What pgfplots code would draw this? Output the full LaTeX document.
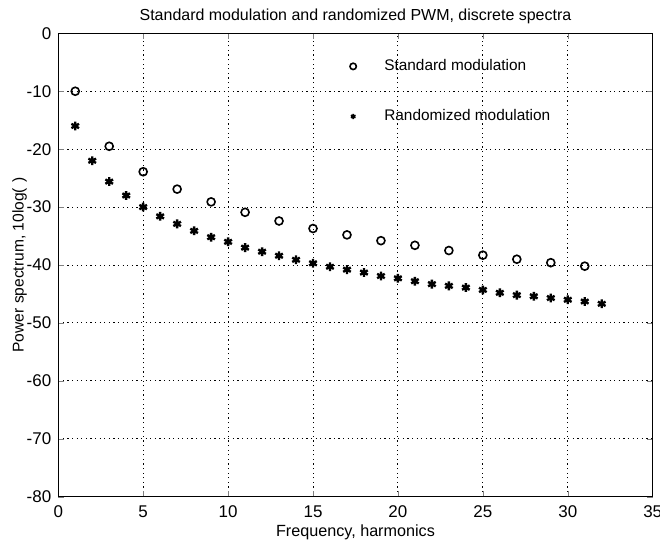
\documentclass[border=0pt]{standalone}
\usepackage{fontspec}
\setmainfont{Liberation Sans}
\usepackage{pgfplots}
\pgfplotsset{compat=1.18}

\begin{document}
\begin{tikzpicture}
\begin{axis}[
    scale only axis,
    width=297.6pt, height=232pt,
    xmin=0, xmax=35, ymin=-80, ymax=0,
    xtick={0,5,...,35}, ytick={-80,-70,...,0},
    tick label style={font=\fontsize{8.5}{10}\selectfont},
    xticklabel style={yshift=-1pt},
    /pgf/number format/assume math mode=true,
    tick align=inside, tick pos=both,
    major tick length=3pt,
    grid=major,
    major grid style={black, dash pattern=on 0.6pt off 1.7pt, line width=0.5pt},
    axis line style={black, line width=0.6pt},
    title={Standard modulation and randomized PWM, discrete spectra},
    title style={font=\fontsize{8}{9}\selectfont, yshift=-5pt},
    xlabel={Frequency, harmonics},
    ylabel={Power spectrum, 10log(\,\,)},
    xlabel style={font=\fontsize{8.1}{9}\selectfont, yshift=3.5pt},
    ylabel style={font=\fontsize{7.8}{9}\selectfont, yshift=-7pt},
    legend cell align=left,
    legend style={draw=none, fill=none,
        at={(0.480,0.962)}, anchor=north west,
        row sep=14pt, font=\fontsize{7.7}{9}\selectfont},
]
\addplot[only marks, mark=o, mark size=2pt, black, thick, forget plot] coordinates {
    (1,-10.0) (3,-19.5) (5,-23.9) (7,-26.9) (9,-29.1) (11,-30.9)
    (13,-32.4) (15,-33.7) (17,-34.8) (19,-35.8) (21,-36.6) (23,-37.5)
    (25,-38.3) (27,-39.0) (29,-39.6) (31,-40.2)
};
\addplot[only marks, mark=asterisk, mark size=2.2pt, black, very thick, forget plot] coordinates {
    (1,-16.0) (2,-22.0) (3,-25.6) (4,-28.0) (5,-30.0) (6,-31.6)
    (7,-32.9) (8,-34.1) (9,-35.2) (10,-36.0) (11,-37.0) (12,-37.7)
    (13,-38.4) (14,-39.1) (15,-39.7) (16,-40.3) (17,-40.8) (18,-41.3)
    (19,-41.9) (20,-42.3) (21,-42.8) (22,-43.3) (23,-43.6) (24,-43.9)
    (25,-44.3) (26,-44.8) (27,-45.2) (28,-45.4) (29,-45.7) (30,-46.0)
    (31,-46.3) (32,-46.7)
};
\addlegendimage{only marks, mark=o, mark size=1.6pt, black, thick}
\addlegendentry{\hspace{12pt}Standard modulation}
\addlegendimage{only marks, mark=asterisk, mark size=1.3pt, black, thick}
\addlegendentry{\hspace{12pt}Randomized modulation}
\coordinate (bl) at (rel axis cs:-0.098,-0.0956);
\coordinate (tr) at (rel axis cs:1.0123,1.0719);
\end{axis}
\pgfresetboundingbox
\path[use as bounding box] (bl) rectangle (tr);
\end{tikzpicture}
\end{document}
